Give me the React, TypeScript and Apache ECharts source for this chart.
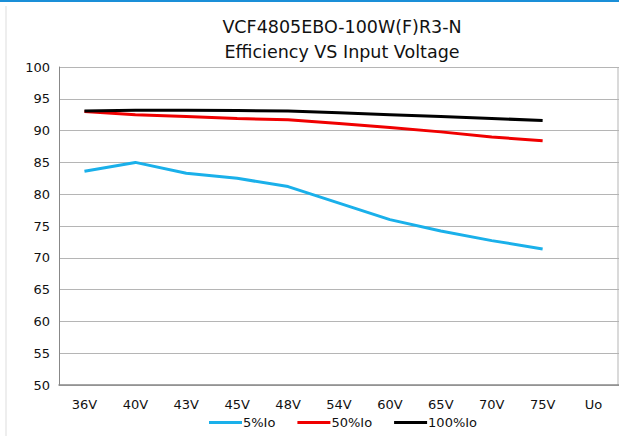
import React, { useEffect, useRef } from "react";
import * as echarts from "echarts";

const categories = ["36V", "40V", "43V", "45V", "48V", "54V", "60V", "65V", "70V", "75V", "Uo"];
const load5 = [83.6, 85.0, 83.3, 82.5, 81.2, 78.6, 76.0, 74.2, 72.7, 71.4, null];
const load50 = [93.0, 92.5, 92.2, 91.9, 91.7, 91.1, 90.5, 89.8, 89.0, 88.4, null];
const load100 = [93.1, 93.2, 93.2, 93.15, 93.1, 92.8, 92.5, 92.2, 91.9, 91.6, null];
const seriesNames = ["5%Io", "50%Io", "100%Io"];
const titleLines = ["VCF4805EBO-100W(F)R3-N", "Efficiency VS Input Voltage"];

const FONT = "DejaVu Sans";

export default function App() {
  const ref = useRef<HTMLDivElement>(null);
  useEffect(() => {
    if (!ref.current) return;
    const chart = echarts.init(ref.current, null, { renderer: "svg" });
    const mk = (name: string, data: (number | null)[], color: string) => ({
      name,
      type: "line",
      data,
      symbol: "none",
      lineStyle: { color, width: 3 },
      itemStyle: { color },
    });
    chart.setOption({
      animation: false,
      backgroundColor: "#ffffff",
      title: {
        text: titleLines.join("\n"),
        left: 337,
        textAlign: "center",
        top: 9,
        textStyle: { fontFamily: FONT, fontSize: 17.5, fontWeight: "normal", color: "#111", lineHeight: 25 },
      },
      graphic: [
        { type: "rect", shape: { x: 0, y: 0, width: 619, height: 2 }, style: { fill: "#1a8fd8" } },
        { type: "line", shape: { x1: 6, y1: 6, x2: 6, y2: 436 }, style: { stroke: "#dddddd", lineWidth: 1 } },
        { type: "line", shape: { x1: 618, y1: 67, x2: 618, y2: 385 }, style: { stroke: "#b5b5b5", lineWidth: 1 } },
      ],
      legend: {
        bottom: 2,
        left: 204,
        itemWidth: 33,
        itemHeight: 3,
        itemGap: 22,
        textStyle: { fontFamily: FONT, fontSize: 13, color: "#111", padding: [0, 0, 0, -4] },
        data: seriesNames.map((n) => ({ name: n, icon: "rect" })),
      },
      grid: { left: 59, right: -5, top: 67, bottom: 51 },
      xAxis: {
        type: "category",
        data: categories,
        boundaryGap: true,
        axisLine: { lineStyle: { color: "#888", width: 1.5 } },
        axisTick: { show: false },
        axisLabel: { fontFamily: FONT, fontSize: 13, color: "#111", margin: 13 },
      },
      yAxis: {
        type: "value",
        min: 50,
        max: 100,
        interval: 5,
        axisLine: { show: true, lineStyle: { color: "#888" } },
        axisTick: { show: false },
        axisLabel: { fontFamily: FONT, fontSize: 13, color: "#111", margin: 9 },
        splitLine: { lineStyle: { color: "#b5b5b5", width: 1 } },
      },
      series: [
        mk(seriesNames[0], load5, "#1ab0ea"),
        mk(seriesNames[1], load50, "#f00000"),
        mk(seriesNames[2], load100, "#000000"),
      ],
    });
    return () => chart.dispose();
  }, []);
  return (
    <div
      ref={ref}
      style={{ position: "fixed", left: 0, top: 0, width: 619, height: 436 }}
    />
  );
}
